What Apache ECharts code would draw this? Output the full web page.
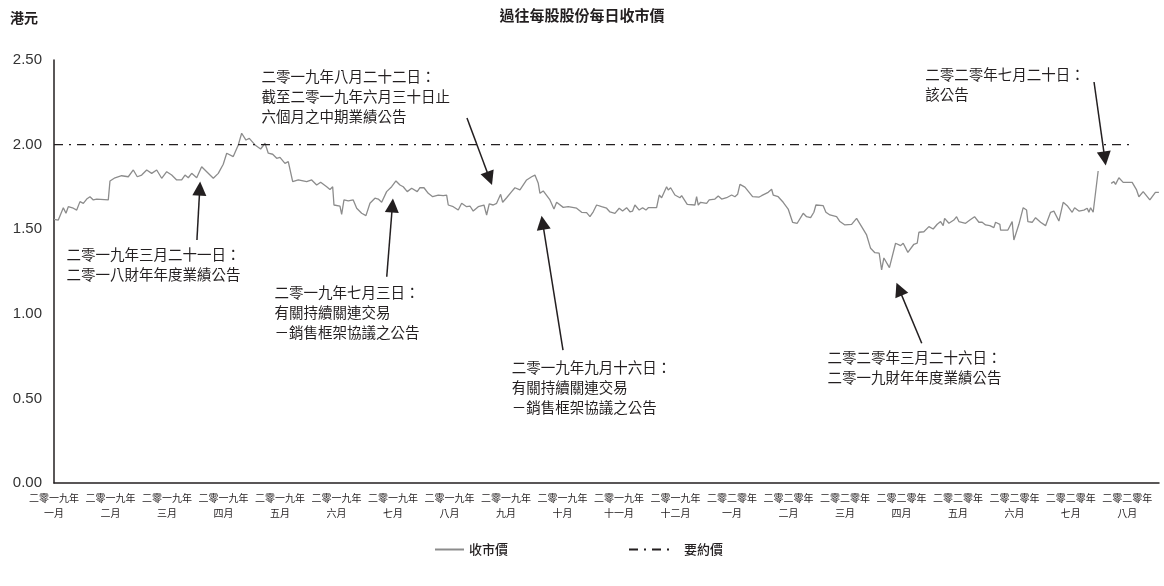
<!DOCTYPE html>
<html>
<head>
<meta charset="utf-8">
<script src="https://cdn.jsdelivr.net/npm/echarts@6/dist/echarts.min.js"></script>
<style>html,body{margin:0;padding:0;background:#fff;}#c{width:1164px;height:586px;}</style>
</head>
<body>
<div id="c"></div>
<script>
// Month tick labels (one per month start, Jan 2019 .. Aug 2020)
const monthLabels = [
  '二零一九年\n一月','二零一九年\n二月','二零一九年\n三月','二零一九年\n四月','二零一九年\n五月',
  '二零一九年\n六月','二零一九年\n七月','二零一九年\n八月','二零一九年\n九月','二零一九年\n十月',
  '二零一九年\n十一月','二零一九年\n十二月','二零二零年\n一月','二零二零年\n二月','二零二零年\n三月',
  '二零二零年\n四月','二零二零年\n五月','二零二零年\n六月','二零二零年\n七月','二零二零年\n八月'
];
const yTicks = [0, 0.5, 1.0, 1.5, 2.0, 2.5];

// Trading time in months since 1 Jan 2019
const closeMonth = [0.000,0.076,0.165,0.212,0.253,0.342,0.402,0.460,0.519,0.579,
0.637,0.696,0.756,0.961,0.991,1.080,1.198,1.315,1.404,1.474,
1.552,1.641,1.729,1.818,1.906,1.995,2.083,2.172,2.260,2.319,
2.377,2.437,2.526,2.614,2.703,2.820,2.908,2.996,3.057,3.173,
3.262,3.322,3.398,3.457,3.558,3.658,3.735,3.793,3.871,3.942,
4.000,4.088,4.147,4.225,4.324,4.473,4.561,4.650,4.720,4.827,
4.885,4.933,4.956,5.062,5.092,5.133,5.209,5.297,5.358,5.446,
5.522,5.593,5.681,5.740,5.800,5.888,5.977,6.053,6.124,6.182,
6.253,6.331,6.430,6.478,6.549,6.625,6.703,6.802,6.890,6.950,
6.979,7.067,7.156,7.216,7.304,7.363,7.421,7.510,7.611,7.658,
7.704,7.775,7.835,7.906,7.942,8.012,8.101,8.159,8.248,8.366,
8.455,8.513,8.572,8.602,8.660,8.779,8.850,8.897,9.014,9.103,
9.251,9.340,9.428,9.487,9.545,9.605,9.694,9.782,9.841,9.929,
10.005,10.065,10.136,10.195,10.242,10.283,10.359,10.419,10.478,10.519,
10.667,10.713,10.756,10.844,10.873,10.915,10.991,11.080,11.110,11.209,
11.345,11.375,11.404,11.446,11.552,11.598,11.699,11.758,11.818,11.906,
11.995,12.053,12.101,12.142,12.230,12.366,12.483,12.525,12.554,12.642,
12.703,12.731,12.761,12.819,12.908,12.996,13.074,13.156,13.262,13.322,
13.393,13.451,13.487,13.616,13.664,13.735,13.853,13.912,14.000,14.119,
14.207,14.296,14.384,14.455,14.531,14.607,14.650,14.690,14.788,14.897,
14.986,15.032,15.115,15.221,15.280,15.310,15.398,15.487,15.563,15.634,
15.694,15.740,15.765,15.841,15.929,15.977,16.018,16.136,16.212,16.295,
16.372,16.430,16.490,16.566,16.637,16.667,16.743,16.756,16.885,16.961,
16.991,17.080,17.156,17.216,17.239,17.315,17.375,17.464,17.552,17.641,
17.699,17.788,17.864,17.935,18.023,18.066,18.142,18.230,18.289,18.319,
18.349,18.395,18.483,18.600,18.713,18.761,18.791,18.850,18.926,19.085,
19.163,19.204,19.280,19.398,19.496,19.558];

// Daily closing price (HK$); null = trading halt
const closePrice = [1.558,1.554,1.627,1.594,1.633,1.624,1.613,1.663,1.653,1.678,
1.692,1.673,1.678,1.673,1.785,1.804,1.816,1.810,1.850,1.810,
1.820,1.850,1.830,1.850,1.801,1.840,1.820,1.791,1.791,1.820,
1.804,1.830,1.804,1.869,1.840,1.801,1.830,1.884,1.949,1.929,
1.998,2.067,2.027,2.037,1.998,1.974,2.008,1.949,1.943,1.919,
1.925,1.889,1.899,1.781,1.791,1.781,1.791,1.761,1.777,1.751,
1.735,1.751,1.643,1.637,1.588,1.673,1.667,1.673,1.624,1.594,
1.580,1.653,1.683,1.678,1.659,1.722,1.751,1.785,1.761,1.751,
1.722,1.742,1.722,1.745,1.745,1.712,1.692,1.702,1.698,1.702,
1.643,1.633,1.613,1.653,1.633,1.637,1.607,1.633,1.643,1.584,
1.649,1.643,1.653,1.706,1.659,1.686,1.722,1.745,1.732,1.791,
1.810,1.820,1.771,1.712,1.726,1.673,1.619,1.659,1.629,1.633,
1.624,1.600,1.598,1.574,1.603,1.643,1.633,1.624,1.602,1.594,
1.624,1.607,1.627,1.603,1.607,1.643,1.613,1.627,1.613,1.627,
1.627,1.702,1.686,1.751,1.732,1.745,1.702,1.686,1.698,1.647,
1.643,1.692,1.643,1.659,1.653,1.673,1.678,1.696,1.678,1.686,
1.702,1.692,1.706,1.765,1.749,1.692,1.690,1.698,1.706,1.718,
1.736,1.702,1.712,1.692,1.659,1.619,1.541,1.535,1.594,1.574,
1.568,1.600,1.643,1.639,1.600,1.584,1.574,1.545,1.525,1.529,
1.564,1.515,1.466,1.387,1.361,1.358,1.259,1.330,1.273,1.417,
1.403,1.417,1.363,1.411,1.417,1.482,1.485,1.515,1.501,1.529,
1.545,1.521,1.564,1.535,1.554,1.574,1.545,1.535,1.554,1.574,
1.541,1.541,1.525,1.521,1.509,1.541,1.529,1.495,1.495,1.545,
1.436,1.529,1.627,1.613,1.545,1.541,1.568,1.541,1.521,1.600,
1.607,1.548,1.659,1.639,1.600,1.627,1.607,1.613,1.624,1.600,
1.627,1.600,1.844,null,1.771,1.781,1.765,1.804,1.777,1.777,
1.732,1.692,1.722,1.673,1.718,1.718];

// Offer price and the time span it is drawn over (months)
const offerPrice = 2.00;
const offerSpan = [0, 19.1];
const axisMaxMonth = 19.56;

// Annotations: text, text anchor [month, price], arrow tail, arrow tip
const noteTexts = [
  '二零一九年三月二十一日：\n二零一八財年年度業績公告',
  '二零一九年八月二十二日：\n截至二零一九年六月三十日止\n六個月之中期業績公告',
  '二零一九年七月三日：\n有關持續關連交易\n－銷售框架協議之公告',
  '二零一九年九月十六日：\n有關持續關連交易\n－銷售框架協議之公告',
  '二零二零年三月二十六日：\n二零一九財年年度業績公告',
  '二零二零年七月二十日：\n該公告'
];
const noteAnchor = [[0.23,1.407],[3.68,2.459],[3.91,1.182],[8.11,0.739],[13.70,0.798],[15.43,2.470]];
const arrowFrom = [[2.53,1.436],[7.31,2.157],[5.89,1.219],[9.01,0.786],[15.36,0.826],[18.41,2.370]];
const arrowTo   = [[2.58,1.740],[7.71,1.800],[5.99,1.640],[8.65,1.538],[14.96,1.146],[18.60,1.918]];

const FONT = '"Noto Sans CJK TC","Noto Sans CJK SC",sans-serif';
const INK = '#231f20';

const closeData = closeMonth.map((m, i) => [m, closePrice[i] === null ? '-' : closePrice[i]]);
const offerData = offerSpan.map(m => [m, offerPrice]);

const chart = echarts.init(document.getElementById('c'), null, {renderer: 'canvas'});
chart.setOption({
  animation: false,
  backgroundColor: '#fff',
  title: [
    {text: '過往每股股份每日收市價', left: 'center', top: 3,
     textStyle: {fontFamily: FONT, fontSize: 15, fontWeight: 'bold', color: INK}},
    {text: '港元', left: 5, top: 6,
     textStyle: {fontFamily: FONT, fontSize: 14, fontWeight: 'bold', color: INK}}
  ],
  legend: [
    {data: ['收市價'], left: 429, top: 538, itemWidth: 29, itemHeight: 10, itemGap: 5,
     itemStyle: {opacity: 0, borderWidth: 0},
     textStyle: {fontFamily: FONT, fontSize: 13, color: INK, fontWeight: 500}},
    {data: ['要約價'], left: 623, top: 538, itemWidth: 42, itemHeight: 10,
     itemStyle: {opacity: 0, borderWidth: 0},
     textStyle: {fontFamily: FONT, fontSize: 13, color: INK, fontWeight: 500, padding: [0,0,0,8]}}
  ],
  grid: {left: 54, right: 5, top: 60, bottom: 103, containLabel: false},
  xAxis: {
    type: 'value', min: 0, max: axisMaxMonth, interval: 1,
    axisLine: {show: true, lineStyle: {color: INK, width: 1.5}},
    axisTick: {show: false}, splitLine: {show: false},
    axisLabel: {
      showMaxLabel: false, margin: 8,
      fontFamily: FONT, fontSize: 10, lineHeight: 15, color: INK,
      formatter: v => (Number.isInteger(v) && monthLabels[v]) ? monthLabels[v] : ''
    }
  },
  yAxis: {
    type: 'value', min: yTicks[0], max: yTicks[yTicks.length - 1], interval: 0.5,
    axisLine: {show: true, lineStyle: {color: INK, width: 1.5}},
    axisTick: {show: false}, splitLine: {show: false},
    axisLabel: {margin: 12, fontFamily: '"Liberation Sans",Arial,sans-serif', fontSize: 15, color: '#333',
      formatter: v => v.toFixed(2)}
  },
  series: [
    {
      name: '收市價', type: 'line', data: closeData, showSymbol: false, symbol: 'none',
      connectNulls: false,
      lineStyle: {color: '#8c8c8c', width: 1.3},
      itemStyle: {color: '#8c8c8c'},
      markLine: {
        silent: true, symbol: ['none', 'triangle'], symbolSize: 14,
        label: {show: false},
        itemStyle: {color: INK},
        lineStyle: {color: INK, width: 1.5, type: 'solid'},
        data: arrowFrom.map((a, i) => [
          {coord: a, symbol: 'none'},
          {coord: arrowTo[i], symbol: 'triangle', symbolSize: 14,
           itemStyle: {color: INK}, lineStyle: {color: INK}}
        ])
      },
      markPoint: {
        silent: true, symbol: 'circle', symbolSize: 1,
        itemStyle: {color: 'rgba(0,0,0,0)'},
        label: {show: true, position: [0, 0], align: 'left', verticalAlign: 'top',
          fontFamily: FONT, fontSize: 14.5, lineHeight: 20, color: INK,
          formatter: p => p.data.name},
        data: noteAnchor.map((c, i) => ({coord: c, name: noteTexts[i]}))
      }
    },
    {
      name: '要約價', type: 'line', data: offerData, showSymbol: false, symbol: 'none',
      lineStyle: {color: INK, width: 1.4, type: [9, 6, 2, 6]},
      itemStyle: {color: INK}
    }
  ]
});
</script>
</body>
</html>
